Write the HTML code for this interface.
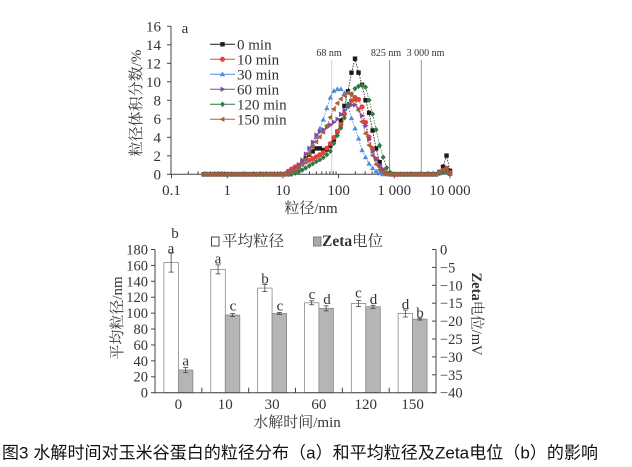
<!DOCTYPE html>
<html><head><meta charset="utf-8">
<style>
html,body{margin:0;padding:0;background:#fff;}
svg{display:block;}
text{font-family:"Liberation Serif","Noto Serif CJK SC",serif;fill:#333;}
.cap{font-family:"Liberation Sans","Noto Sans CJK SC",sans-serif;fill:#111;}
</style></head><body>
<svg id="s" width="632" height="467" viewBox="0 0 632 467" xmlns="http://www.w3.org/2000/svg">
<rect width="632" height="467" fill="#fff"/>
<!-- ============ TOP CHART ============ -->
<g id="topaxes" stroke="#444" stroke-width="1" fill="none">
  <line x1="171" y1="26" x2="171" y2="174.8"/>
  <line x1="170.5" y1="174.3" x2="451" y2="174.3"/>
  <line x1="167" y1="26.3" x2="171" y2="26.3"/>
  <line x1="167" y1="44.8" x2="171" y2="44.8"/>
  <line x1="167" y1="63.3" x2="171" y2="63.3"/>
  <line x1="167" y1="81.8" x2="171" y2="81.8"/>
  <line x1="167" y1="100.3" x2="171" y2="100.3"/>
  <line x1="167" y1="118.8" x2="171" y2="118.8"/>
  <line x1="167" y1="137.3" x2="171" y2="137.3"/>
  <line x1="167" y1="155.8" x2="171" y2="155.8"/>
  <line x1="167" y1="174.3" x2="171" y2="174.3"/>
</g>
<g id="xticks" stroke="#444" stroke-width="1"></g>
<g font-size="15" text-anchor="end">
  <text x="161" y="31.3">16</text>
  <text x="161" y="49.8">14</text>
  <text x="161" y="68.3">12</text>
  <text x="161" y="86.8">10</text>
  <text x="161" y="105.3">8</text>
  <text x="161" y="123.8">6</text>
  <text x="161" y="142.3">4</text>
  <text x="161" y="160.8">2</text>
  <text x="161" y="179.3">0</text>
</g>
<g font-size="15" text-anchor="middle">
  <text x="171.5" y="195">0.1</text>
  <text x="227.2" y="195">1</text>
  <text x="282.9" y="195">10</text>
  <text x="338.6" y="195">100</text>
  <text x="394.3" y="195">1 000</text>
  <text x="450" y="195">10 000</text>
</g>
<text x="311" y="213" font-size="15" text-anchor="middle" fill="#555">粒径/nm</text>
<text transform="translate(141,103) rotate(-90)" font-size="15" text-anchor="middle" fill="#555">粒径体积分数/%</text>
<text x="185" y="33" font-size="15" text-anchor="middle">a</text>
<!-- reference lines -->
<line x1="331.7" y1="60" x2="331.7" y2="174" stroke="#d0d0d0" stroke-width="1"/>
<line x1="389.6" y1="60" x2="389.6" y2="174" stroke="#888" stroke-width="1"/>
<line x1="421.3" y1="60" x2="421.3" y2="174" stroke="#999" stroke-width="1"/>
<g font-size="10" text-anchor="middle" fill="#444">
  <text x="329" y="56" fill="#444">68 nm</text>
  <text x="386" y="56" fill="#444">825 nm</text>
  <text x="425.5" y="56" fill="#444">3 000 nm</text>
</g>
<g id="series"></g>
<!-- legend top -->
<g id="legend"></g>
<g font-size="15">
  <text x="237" y="49.3">0 min</text>
  <text x="237" y="64.3">10 min</text>
  <text x="237" y="79.3">30 min</text>
  <text x="237" y="94.3">60 min</text>
  <text x="237" y="109.3">120 min</text>
  <text x="237" y="124.3">150 min</text>
</g>

<!-- ============ BOTTOM CHART ============ -->
<g id="bars"></g>
<g stroke="#444" stroke-width="1" fill="none">
  <line x1="155" y1="249.5" x2="155" y2="393.2"/>
  <line x1="436" y1="249.5" x2="436" y2="393.2"/>
  <line x1="154.5" y1="392.7" x2="436.5" y2="392.7"/>
  <line x1="201.8" y1="392.7" x2="201.8" y2="387.7"/>
  <line x1="248.7" y1="392.7" x2="248.7" y2="387.7"/>
  <line x1="295.5" y1="392.7" x2="295.5" y2="387.7"/>
  <line x1="342.3" y1="392.7" x2="342.3" y2="387.7"/>
  <line x1="389.2" y1="392.7" x2="389.2" y2="387.7"/>
</g>
<g id="lticks" stroke="#444" stroke-width="1"></g>
<g font-size="14.5" text-anchor="end">
  <text x="148" y="254.5">180</text>
  <text x="148" y="270.4">160</text>
  <text x="148" y="286.3">140</text>
  <text x="148" y="302.2">120</text>
  <text x="148" y="318.1">100</text>
  <text x="148" y="334.0">80</text>
  <text x="148" y="349.9">60</text>
  <text x="148" y="365.8">40</text>
  <text x="148" y="381.7">20</text>
  <text x="148" y="397.7">0</text>
</g>
<g font-size="14.5" text-anchor="start">
  <text x="440" y="254.5">0</text>
  <text x="440" y="272.4">−5</text>
  <text x="440" y="290.3">−10</text>
  <text x="440" y="308.2">−15</text>
  <text x="440" y="326.1">−20</text>
  <text x="440" y="344.0">−25</text>
  <text x="440" y="361.9">−30</text>
  <text x="440" y="379.8">−35</text>
  <text x="440" y="397.7">−40</text>
</g>
<g font-size="15" text-anchor="middle">
  <text x="178.4" y="409">0</text>
  <text x="225.3" y="409">10</text>
  <text x="272.1" y="409">30</text>
  <text x="318.9" y="409">60</text>
  <text x="365.8" y="409">120</text>
  <text x="412.6" y="409">150</text>
</g>
<text x="297" y="427" font-size="15" text-anchor="middle">水解时间/min</text>
<text transform="translate(122,318) rotate(-90)" font-size="15" text-anchor="middle">平均粒径/nm</text>
<text transform="translate(472,314) rotate(90)" font-size="14.5" text-anchor="middle"><tspan font-weight="bold">Zeta</tspan>电位/mV</text>
<!-- bar letters -->
<g font-size="15" text-anchor="middle" fill="#222">
  <text x="171" y="253">a</text>
  <text x="175" y="238">b</text>
  <text x="185.7" y="365.7">a</text>
  <text x="218" y="263.4">a</text>
  <text x="233" y="310.7">c</text>
  <text x="265" y="283.6">b</text>
  <text x="280" y="310.7">c</text>
  <text x="312" y="299">c</text>
  <text x="327" y="304">d</text>
  <text x="358.5" y="297.5">c</text>
  <text x="373.5" y="304">d</text>
  <text x="405.5" y="309">d</text>
  <text x="420" y="317.3">b</text>
</g>
<!-- bottom legend -->
<rect x="211.5" y="237" width="7.5" height="9" fill="#fff" stroke="#333" stroke-width="0.9"/>
<text x="222" y="246" font-size="15.5">平均粒径</text>
<rect x="313.5" y="237" width="7.5" height="9" fill="#aaa" stroke="#777" stroke-width="0.9"/>
<text x="322" y="246" font-size="15.5"><tspan font-weight="bold">Zeta</tspan>电位</text>

<!-- caption -->
<text class="cap" x="2" y="458.5" font-size="17" textLength="596" lengthAdjust="spacing">图3 水解时间对玉米谷蛋白的粒径分布（a）和平均粒径及Zeta电位（b）的影响</text>
</svg>
<script>
(function(){
const NS="http://www.w3.org/2000/svg";
function el(tag,attrs,parent){const e=document.createElementNS(NS,tag);for(const k in attrs)e.setAttribute(k,attrs[k]);parent.appendChild(e);return e;}
const X0=171.5,DEC=55.7,Y0=174.3,SY=9.25;
const xt=document.getElementById('xticks');
for(let d=-1;d<=4;d++){
  const xm=X0+(d+1)*DEC;
  el('line',{x1:xm,y1:Y0,x2:xm,y2:Y0+4},xt);
  if(d<4){for(let m=2;m<=9;m++){const x=X0+(d+1+Math.log10(m))*DEC;el('line',{x1:x,y1:Y0,x2:x,y2:Y0-3},xt);}}
}
function interp(cp,x){
  if(x<=cp[0][0])return cp[0][1];
  for(let i=1;i<cp.length;i++){if(x<=cp[i][0]){const a=cp[i-1],b=cp[i];return a[1]+(b[1]-a[1])*(x-a[0])/(b[0]-a[0]);}}
  return cp[cp.length-1][1];
}
function marker(t,x,y,c,p){
  switch(t){
   case 'sq':el('rect',{x:x-2.2,y:y-2.2,width:4.4,height:4.4,fill:c},p);break;
   case 'ci':el('circle',{cx:x,cy:y,r:2.5,fill:c},p);break;
   case 'tu':el('polygon',{points:`${x},${y-2.9} ${x+2.7},${y+1.9} ${x-2.7},${y+1.9}`,fill:c},p);break;
   case 'tr':el('polygon',{points:`${x+2.9},${y} ${x-1.9},${y-2.7} ${x-1.9},${y+2.7}`,fill:c},p);break;
   case 'di':el('polygon',{points:`${x},${y-2.8} ${x+2.5},${y} ${x},${y+2.8} ${x-2.5},${y}`,fill:c},p);break;
   case 'tl':el('polygon',{points:`${x-2.9},${y} ${x+1.9},${y-2.7} ${x+1.9},${y+2.7}`,fill:c},p);break;
  }
}
const S=[
 {c:'#1a1a1a',m:'sq',cp:[[200,0],[287,0],[292,0.2],[297,0.6],[302,1.2],[307,1.9],[312,2.4],[316,2.8],[320,2.8],[324,2.6],[328,2.7],[332,3.3],[336,4.2],[340,5.4],[344,7.2],[348,9.0],[351.5,11],[355,12.5],[358.5,11],[362,9.7],[366,7.8],[370,6.3],[374,3.9],[378,1.8],[382,0.6],[386,0.15],[390,0],[436,0],[440,0.3],[443.5,0.9],[447,2.2],[450.5,0.1]]},
 {c:'#e8413b',m:'ci',cp:[[200,0],[284,0],[289,0.4],[295,0.8],[303,1.2],[313,1.7],[323,2.3],[331,3.4],[336,4.4],[340,5.1],[345,6.7],[350,7.8],[355,8.3],[358,8.2],[362,7.3],[365,5.9],[368,4.4],[372,3.0],[375,1.9],[380,0.8],[385,0.2],[390,0],[436,0],[440,0.2],[444,0.5],[447,0.7],[450.5,0.1]]},
 {c:'#4a8fdc',m:'tu',cp:[[200,0],[286,0],[291,0.2],[296,0.5],[300,0.8],[305,1.3],[310,2.6],[315,3.7],[319,4.7],[323,5.8],[327,7.2],[331,8.5],[335,9.2],[343,9.2],[346,8.3],[350,6.6],[353,5.5],[357,4.4],[362,2.6],[368,1.3],[373,0.6],[378,0.15],[383,0],[436,0],[440,0.1],[446,0.3],[450.5,0]]},
 {c:'#7d4aa8',m:'tr',cp:[[200,0],[287,0],[292,0.3],[297,0.8],[302,1.5],[308,2.6],[313,3.5],[317,4.4],[323,4.8],[330,5.3],[337,5.9],[343,6.8],[350,7.5],[355,7.5],[360,6.9],[365,5.5],[368,4.2],[372,2.6],[377,1.4],[382,0.6],[387,0.1],[392,0],[436,0],[441,0.3],[445,0.6],[448,0.5],[450.5,0]]},
 {c:'#2f7a45',m:'di',cp:[[200,0],[292,0],[297,0.2],[303,0.5],[309,0.9],[315,1.3],[322,1.7],[330,2.4],[337,4.1],[343,5.5],[348,7.6],[353,9.1],[358,9.5],[362,9.6],[366,9.4],[370,7.6],[375,5.5],[378,3.7],[383,1.9],[387,0.6],[391,0.1],[395,0],[436,0],[442,0.2],[446,0.4],[450.5,0]]},
 {c:'#a9603a',m:'tl',cp:[[200,0],[288,0],[293,0.3],[298,0.7],[303,1.2],[308,2.0],[313,3.0],[318,3.8],[323,4.5],[328,5.5],[333,6.9],[338,7.8],[343,8.4],[348,8.8],[352,8.6],[356,7.8],[360,6.4],[364,5.0],[368,3.5],[372,2.2],[376,1.1],[380,0.4],[384,0.1],[388,0],[436,0],[441,0.3],[445,0.6],[448,0.4],[450.5,0]]}
];
const sg=document.getElementById('series');
const xs=[];for(let i=-44;i<=27;i++){const x=355+i*3.52;if(x>=201&&x<=450.5)xs.push(x);}
S.forEach(s=>{
  const g=el('g',{},sg);
  const pts=xs.map(x=>[x,Y0-interp(s.cp,x)*SY]);
  el('polyline',{points:pts.map(p=>p[0].toFixed(2)+','+p[1].toFixed(2)).join(' '),fill:'none',stroke:s.c,'stroke-width':0.8,'stroke-dasharray':'1.6,1.2'},g);
  pts.forEach(p=>marker(s.m,p[0],p[1],s.c,g));
});
const lg=document.getElementById('legend');
S.forEach((s,i)=>{const y=44.3+i*15;el('line',{x1:210,y1:y,x2:235,y2:y,stroke:s.c,'stroke-width':1},lg);marker(s.m,222.5,y,s.c,lg);});
const lt=document.getElementById('lticks');
for(let v=0;v<=180;v+=20){const y=392.7-v*0.7956;el('line',{x1:151,y1:y,x2:155,y2:y},lt);}
for(let k=0;k<=8;k++){const y=249.5+k*17.9;el('line',{x1:432,y1:y,x2:436,y2:y},lt);}
const bg=document.getElementById('bars');
const C=[178.4,225.3,272.1,318.9,365.8,412.6];
const W=[163.5,155,131.5,113,112,99.5],WE=[9.5,4.5,3.5,2,3,3.5];
const G=[28.5,97.6,99.6,106,108,92.5],GE=[2.5,1.5,1,2.5,1.5,1];
function yL(v){return 392.7-v*0.7956;}
function eb(x,y,e){el('line',{x1:x,y1:y-e,x2:x,y2:y+e,stroke:'#444','stroke-width':0.8},bg);el('line',{x1:x-2.5,y1:y-e,x2:x+2.5,y2:y-e,stroke:'#444','stroke-width':0.8},bg);el('line',{x1:x-2.5,y1:y+e,x2:x+2.5,y2:y+e,stroke:'#444','stroke-width':0.8},bg);}
C.forEach((c,i)=>{
  const yw=yL(W[i]),yg=yL(G[i]);
  el('rect',{x:c-14.5,y:yw,width:14.5,height:392.7-yw,fill:'#fff',stroke:'#888','stroke-width':0.8},bg);
  el('rect',{x:c,y:yg,width:14.5,height:392.7-yg,fill:'#b5b5b5',stroke:'#888','stroke-width':0.8},bg);
  eb(c-7.25,yw,WE[i]);eb(c+7.25,yg,GE[i]);
});
})();
</script>
</body></html>
